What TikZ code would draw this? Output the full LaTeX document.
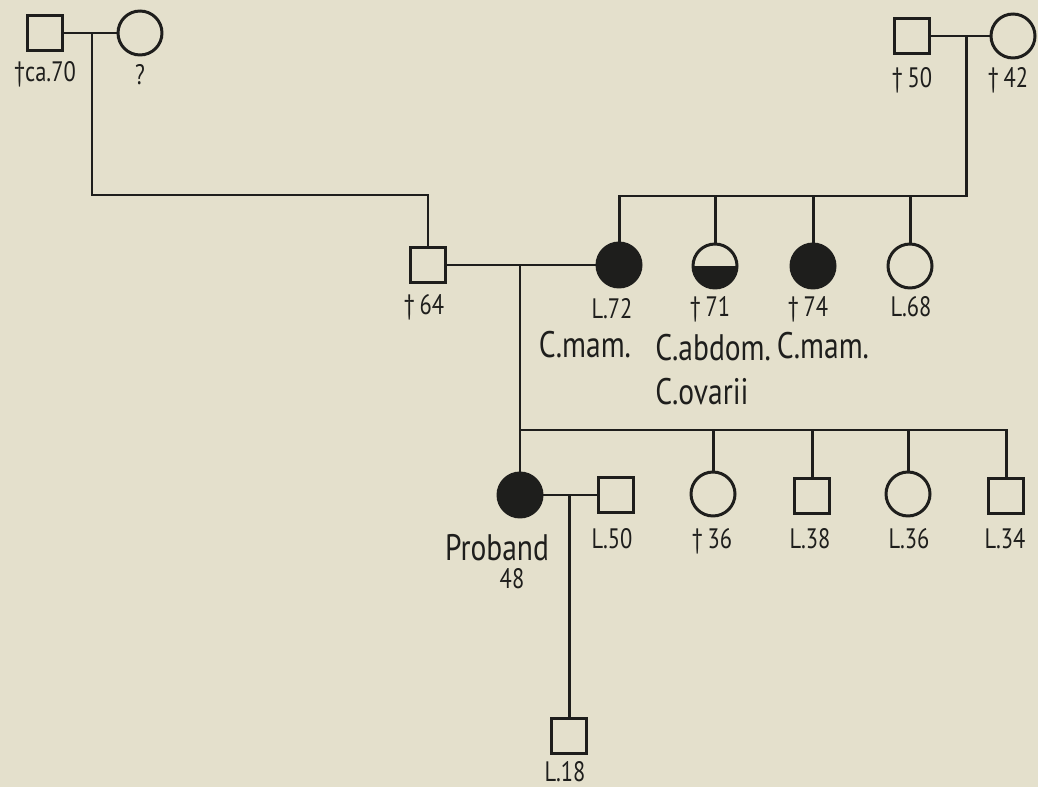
\documentclass[tikz,border=0pt]{standalone}
\usepackage{fontspec}
\setmainfont{PT Sans}[FakeStretch=0.8]
\usetikzlibrary{positioning}
\definecolor{paper}{RGB}{228,224,204}
\definecolor{ink}{RGB}{30,30,28}

\begin{document}
\begin{tikzpicture}[
    x=0.02cm, y=-0.02cm,
    line width=1.7pt,
    male/.style={draw=ink, line width=1.7pt, minimum size=0.7cm, inner sep=0pt},
    female/.style={circle, draw=ink, line width=1.7pt, minimum size=0.88cm, inner sep=0pt},
    affected/.style={fill=ink},
    halfaffected/.style={path picture={\fill[ink] (path picture bounding box.west) rectangle (path picture bounding box.south east);}},
    age/.style={font=\fontsize{16}{18}\selectfont, text=ink, inner sep=1pt},
    diag/.style={font=\fontsize{21}{25}\selectfont, text=ink, inner sep=1pt},
    link/.style={draw=ink, line width=1.7pt}
]
\fill[paper] (0,0) rectangle (1038,787);
\useasboundingbox (0,0) rectangle (1038,787);

% grandparents
\node[male] (gf1) at (45,33) {};
\node[female] (gm1) at (140,33) {};
\node[male] (gf2) at (912,36) {};
\node[female] (gm2) at (1013,36) {};

% parents and aunts
\node[male] (father) at (428,265) {};
\node[female, affected] (mother) at (619,265) {};
\node[female, halfaffected] (aunt1) at (715,266) {};
\node[female, affected] (aunt2) at (813,266) {};
\node[female] (aunt3) at (910,266) {};

% proband and siblings
\node[female, affected] (proband) at (520,495) {};
\node[male] (husband) at (616,495) {};
\node[female] (sib1) at (713,494) {};
\node[male] (sib2) at (812,496) {};
\node[female] (sib3) at (908,494) {};
\node[male] (sib4) at (1006,496) {};
\node[male] (son) at (569,736) {};

% lines
\coordinate (gp1) at (92,33);
\coordinate (bend1) at (92,195);
\coordinate (gp2) at (966,36);
\coordinate (sibs2) at (966,196);
\coordinate (kids) at (520,430);
\coordinate (pm) at (569,495);

\draw[link] (gf1) -- (gm1);
\draw[link] (gp1) -- (bend1) -| (father.north);
\draw[link] (gf2) -- (gm2);
\draw[link] (gp2) -- (sibs2) -| (mother.north);
\draw[link] (aunt1.north) -- (aunt1.north |- sibs2);
\draw[link] (aunt2.north) -- (aunt2.north |- sibs2);
\draw[link] (aunt3.north) -- (aunt3.north |- sibs2);
\draw[link] (father) -- (mother);
\draw[link] (kids |- father) -- (proband.north);
\draw[link] (kids) -| (sib4.north);
\draw[link] (sib1.north) -- (sib1.north |- kids);
\draw[link] (sib2.north) -- (sib2.north |- kids);
\draw[link] (sib3.north) -- (sib3.north |- kids);
\draw[link] (proband) -- (husband);
\draw[link] (pm) -- (son.north);

% labels
\node[age] (t-gf1) at (45,74) {†ca.70};
\node[age] (t-gm1) at (140,75) {?};
\node[age] (t-gf2) at (912,80) {†\,50};
\node[age] (t-gm2) at (1008,80) {†\,42};
\node[age] (t-father) at (424,307) {†\,64};
\node[age] (t-mother) at (612,309) {L.72};
\node[age] (t-aunt1) at (710,309) {†\,71};
\node[age] (t-aunt2) at (808,309) {†\,74};
\node[age] (t-aunt3) at (911,307) {L.68};
\node[diag] (d-mother) at (585,345) {C.mam.};
\node[diag, align=left, anchor=west] (d-aunt1) at (652,370) {C.abdom.\\C.ovarii};
\node[diag] (d-aunt2) at (823,346) {C.mam.};
\node[diag] (d-proband) at (497,548) {Proband};
\node[age] (t-proband) at (512,579) {48};
\node[age] (t-husband) at (612,539) {L.50};
\node[age] (t-sib1) at (712,541) {†\,36};
\node[age] (t-sib2) at (810,539) {L.38};
\node[age] (t-sib3) at (909,539) {L.36};
\node[age] (t-sib4) at (1005,539) {L.34};
\node[age] (t-son) at (565,772) {L.18};
\end{tikzpicture}
\end{document}
